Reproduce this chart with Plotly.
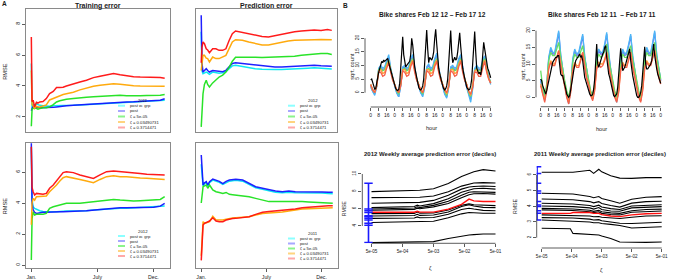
import math
import plotly.graph_objects as go

W, H = 680, 280
FONT = "Liberation Sans, Arial, sans-serif"
TXT = "#1a1a1a"

# ---------------- A: cumulative RMSE through the year ----------------
days = [0, 2, 5, 9, 14, 18, 23, 32, 41, 50, 60, 69, 78, 87, 96, 115, 133, 151,
        170, 188, 206, 225, 243, 261, 280, 298, 316, 335, 353, 365]
month_ticks = [0, 181, 334]
month_labels = ["Jan.", "July", "Dec."]
series_names = ["post w. grp", "post", "ζ = 5e-05", "ζ = 0.03490731", "ζ = 0.3714471"]

train11_cyan = [5.45, 2.5, 2.8, 2.75, 2.85, 2.8, 2.75, 2.72, 2.7, 2.7, 2.72, 2.72, 2.72, 2.73, 2.74, 2.75, 2.78, 2.8, 2.83, 2.87, 2.9, 2.92, 2.95, 2.97, 2.97, 2.99, 3.0, 3.02, 3.05, 3.08]
train11_blue = [2.4, 2.6, 2.7, 2.55, 2.6, 2.62, 2.6, 2.6, 2.62, 2.6, 2.62, 2.65, 2.68, 2.7, 2.72, 2.75, 2.78, 2.82, 2.85, 2.87, 2.9, 2.93, 2.95, 2.97, 2.98, 3.0, 3.0, 3.02, 3.08, 3.18]
train11_green = [1.4, 2.5, 2.55, 2.6, 2.55, 2.5, 2.55, 2.6, 2.6, 2.65, 2.8, 2.97, 3.05, 3.1, 3.15, 3.2, 3.25, 3.28, 3.3, 3.33, 3.37, 3.4, 3.4, 3.37, 3.35, 3.37, 3.38, 3.37, 3.4, 3.45]
train11_orange = [5.0, 2.8, 2.7, 2.55, 2.7, 2.65, 2.65, 2.7, 2.78, 3.1, 3.2, 3.3, 3.38, 3.45, 3.5, 3.6, 3.75, 3.88, 3.98, 4.05, 4.1, 4.15, 4.12, 4.06, 4.02, 4.0, 4.0, 3.99, 3.99, 3.98]
train11_red = [7.16, 3.0, 3.08, 2.65, 2.95, 2.9, 2.97, 3.0, 3.19, 3.51, 3.65, 3.9, 3.9, 3.92, 4.0, 4.15, 4.26, 4.37, 4.54, 4.63, 4.69, 4.8, 4.72, 4.65, 4.6, 4.58, 4.58, 4.58, 4.55, 4.5]

pred12_cyan = [7.5, 5.0, 4.8, 4.85, 4.9, 4.85, 4.75, 4.9, 4.85, 4.82, 4.85, 4.93, 5.12, 5.3, 5.34, 5.25, 5.17, 5.12, 5.08, 5.06, 5.06, 5.07, 5.1, 5.12, 5.14, 5.15, 5.17, 5.15, 5.13, 5.1]
pred12_blue = [8.56, 5.5, 4.9, 5.0, 5.12, 5.0, 4.9, 5.0, 4.97, 4.95, 4.92, 5.01, 5.23, 5.45, 5.5, 5.45, 5.4, 5.34, 5.3, 5.23, 5.23, 5.23, 5.25, 5.27, 5.28, 5.3, 5.34, 5.31, 5.3, 5.28]
pred12_green = [1.36, 2.5, 3.5, 4.1, 4.37, 4.1, 3.94, 4.2, 4.4, 4.58, 4.7, 4.9, 5.2, 5.6, 5.85, 5.87, 5.87, 5.86, 5.84, 5.85, 5.87, 5.87, 5.9, 5.92, 5.98, 6.02, 6.09, 6.09, 6.09, 6.03]
pred12_orange = [5.0, 5.6, 5.98, 5.98, 5.8, 5.77, 5.55, 5.87, 5.77, 5.77, 5.87, 5.98, 6.41, 6.84, 6.99, 6.95, 6.84, 6.73, 6.65, 6.65, 6.73, 6.84, 6.9, 6.95, 6.95, 6.97, 6.99, 7.0, 7.01, 6.99]
pred12_red = [5.5, 6.5, 6.84, 6.73, 6.4, 6.32, 6.15, 6.4, 6.4, 6.3, 6.3, 6.4, 6.94, 7.37, 7.55, 7.45, 7.38, 7.26, 7.2, 7.17, 7.25, 7.38, 7.45, 7.5, 7.55, 7.58, 7.62, 7.59, 7.64, 7.59]

train12_cyan = [7.6, 4.2, 3.76, 3.65, 3.6, 3.55, 3.5, 3.46, 3.44, 3.44, 3.44, 3.44, 3.46, 3.46, 3.48, 3.48, 3.48, 3.5, 3.55, 3.58, 3.62, 3.64, 3.66, 3.66, 3.68, 3.7, 3.7, 3.72, 3.76, 3.8]
train12_blue = [7.85, 4.0, 3.55, 3.4, 3.33, 3.35, 3.38, 3.4, 3.4, 3.42, 3.44, 3.44, 3.44, 3.44, 3.44, 3.46, 3.48, 3.5, 3.55, 3.58, 3.63, 3.66, 3.7, 3.7, 3.7, 3.7, 3.7, 3.72, 3.8, 3.98]
train12_green = [0.32, 3.0, 3.44, 3.23, 3.27, 3.27, 3.27, 3.27, 3.33, 3.66, 3.76, 3.82, 3.87, 3.93, 3.98, 3.98, 3.98, 4.04, 4.09, 4.12, 4.19, 4.23, 4.19, 4.15, 4.13, 4.15, 4.19, 4.21, 4.23, 4.41]
train12_orange = [2.6, 4.0, 4.3, 4.19, 4.41, 4.41, 4.41, 4.41, 4.45, 4.73, 4.95, 5.16, 5.42, 5.63, 5.7, 5.63, 5.52, 5.42, 5.31, 5.52, 5.7, 5.76, 5.7, 5.7, 5.63, 5.61, 5.59, 5.57, 5.52, 5.52]
train12_red = [7.63, 5.0, 4.73, 4.52, 4.62, 4.6, 4.62, 4.56, 4.62, 4.95, 5.16, 5.42, 5.7, 5.96, 6.02, 5.96, 5.81, 5.7, 5.59, 5.81, 6.02, 6.06, 6.02, 5.98, 5.98, 5.91, 5.85, 5.85, 5.81, 5.81]

pred11_cyan = [6.5, 5.8, 5.1, 5.25, 5.32, 5.1, 5.32, 5.48, 5.42, 5.33, 5.2, 5.33, 5.41, 5.44, 5.47, 5.41, 5.2, 4.98, 4.88, 4.77, 4.7, 4.66, 4.7, 4.66, 4.66, 4.68, 4.66, 4.64, 4.62, 4.6]
pred11_blue = [7.1, 6.0, 5.16, 5.3, 5.38, 5.16, 5.38, 5.55, 5.48, 5.4, 5.25, 5.4, 5.48, 5.5, 5.53, 5.48, 5.27, 5.05, 4.95, 4.84, 4.77, 4.73, 4.77, 4.73, 4.73, 4.75, 4.73, 4.71, 4.69, 4.69]
pred11_green = [4.0, 4.5, 5.05, 5.1, 5.16, 4.95, 5.16, 4.84, 4.73, 4.68, 4.62, 4.68, 4.56, 4.54, 4.52, 4.47, 4.41, 4.3, 4.2, 4.09, 4.09, 4.09, 4.09, 4.13, 4.09, 4.07, 4.05, 4.03, 4.02, 3.98]
pred11_orange = [0.6, 2.0, 2.8, 2.69, 2.75, 2.75, 2.8, 3.15, 2.9, 2.9, 2.9, 2.95, 3.01, 3.03, 3.05, 3.08, 3.12, 3.23, 3.33, 3.36, 3.38, 3.42, 3.48, 3.55, 3.61, 3.63, 3.66, 3.68, 3.7, 3.7]
pred11_red = [0.3, 1.8, 2.58, 2.69, 2.75, 2.8, 2.84, 3.05, 2.84, 2.8, 2.8, 2.9, 2.97, 3.0, 3.01, 3.06, 3.12, 3.27, 3.4, 3.45, 3.48, 3.52, 3.55, 3.62, 3.7, 3.74, 3.78, 3.8, 3.83, 3.83]

# ---------------- B top: hourly bike shares (sqrt count) ----------------
hours = list(range(0, 121))
hours2 = list(range(0, 121, 2))
hour_ticks = [0, 8, 16, 24, 32, 40, 48, 56, 64, 72, 80, 88, 96, 104, 112, 120]
hour_labels = ["0", "8", "16", "0", "8", "16", "0", "8", "16", "0", "8", "16", "0", "8", "16", "0"]

obs12 = [4.7, 5.0, 3.8, 2.0, 1.3, 1.5, 3.0, 5.5, 7.5, 9.0, 10.5, 11.5, 11.0, 12.0, 11.5, 12.0, 12.5, 12.6, 11.0, 9.5, 8.0, 6.5, 5.0, 3.5,
         2.5, 1.5, 1.0, 0.8, 1.2, 3.5, 9.0, 16.0, 20.5, 14.0, 10.5, 9.5, 10.0, 10.5, 11.0, 11.5, 14.0, 20.0, 17.5, 12.0, 9.5, 7.5, 5.5, 3.5,
         2.0, 1.2, 1.0, 1.5, 2.5, 5.0, 10.0, 18.0, 23.0, 16.0, 11.0, 13.0, 12.5, 12.0, 13.0, 15.0, 20.0, 23.3, 18.0, 12.0, 9.0, 7.0, 5.0, 3.5,
         2.5, 1.5, 1.0, 1.5, 2.5, 5.0, 10.0, 18.0, 22.8, 15.0, 11.0, 12.0, 13.0, 12.0, 12.5, 15.0, 19.0, 22.0, 17.0, 12.0, 9.0, 7.0, 5.0, 3.5,
         2.0, 1.5, 1.0, 1.2, 2.5, 5.0, 10.0, 18.0, 22.5, 15.0, 9.0, 8.0, 7.0, 7.5, 6.5, 9.0, 14.0, 18.5, 16.0, 13.0, 11.0, 9.0, 8.0, 6.5, 5.5]
fit12_cyan = [2.0, 0.5, -1.0, 2.0, 9.0, 10.0, 9.0, 9.5, 12.0, 14.0, 9.0, 5.0,
              2.5, 0.0, -1.5, 2.5, 9.5, 10.0, 9.0, 9.5, 12.5, 14.0, 9.0, 5.0,
              2.5, 0.0, -1.5, 2.0, 9.5, 10.5, 9.0, 9.5, 12.5, 14.5, 9.0, 5.0,
              2.5, -0.5, -2.0, 2.0, 9.5, 10.0, 9.0, 9.5, 12.5, 14.0, 9.0, 5.0,
              2.0, -1.0, -3.5, 1.5, 9.0, 10.0, 9.0, 9.0, 12.0, 13.5, 9.0, 5.5, 3.0]
fit12_blue = [2.5, 0.5, -0.5, 2.5, 8.5, 9.5, 8.5, 9.0, 11.5, 13.0, 8.5, 5.0,
              2.5, 0.0, -1.5, 2.5, 9.0, 9.5, 8.5, 9.0, 12.0, 13.5, 8.5, 5.0,
              2.5, 0.0, -1.0, 2.5, 9.0, 10.0, 8.5, 9.0, 12.0, 14.0, 8.5, 5.0,
              2.5, -0.5, -1.5, 2.0, 9.0, 9.5, 8.5, 9.0, 12.0, 13.5, 8.5, 5.0,
              2.0, -0.5, -2.5, 2.0, 8.5, 9.5, 8.5, 8.5, 11.5, 13.5, 8.5, 5.5, 3.5]
fit12_green = [3.0, 1.0, 0.0, 2.5, 8.5, 9.0, 8.0, 8.5, 10.5, 12.0, 8.5, 5.0,
               3.0, 0.5, -0.5, 3.0, 8.5, 9.0, 8.0, 8.5, 11.0, 12.5, 8.5, 5.0,
               3.0, 0.5, -0.5, 3.0, 8.5, 9.0, 8.0, 8.5, 11.0, 12.5, 8.5, 5.0,
               3.0, 0.5, -1.0, 2.5, 8.5, 9.0, 8.0, 8.5, 11.0, 12.5, 8.5, 5.0,
               3.0, 0.0, -1.5, 2.5, 8.0, 9.0, 8.0, 8.0, 11.0, 12.5, 8.5, 5.5, 4.0]
fit12_orange = [3.0, 1.0, 0.0, 2.5, 8.0, 8.5, 7.0, 7.5, 10.0, 11.5, 8.0, 5.0,
                3.0, 1.0, 0.0, 3.0, 8.5, 8.5, 7.0, 7.5, 10.5, 12.0, 8.0, 5.0,
                3.0, 1.0, 0.0, 3.0, 8.5, 8.5, 7.0, 7.5, 10.5, 12.0, 8.0, 5.0,
                3.0, 1.0, -0.5, 2.5, 8.5, 8.5, 7.0, 7.5, 10.5, 12.0, 8.0, 5.0,
                3.0, 0.5, -1.0, 2.5, 8.0, 8.5, 7.0, 7.0, 10.0, 12.0, 8.0, 5.0, 3.5]
fit12_red = [3.0, 1.0, 0.0, 2.5, 7.5, 7.5, 6.0, 6.5, 9.0, 11.0, 7.5, 4.5,
             3.0, 1.0, 0.0, 2.5, 8.0, 7.5, 6.0, 6.5, 9.5, 11.5, 7.5, 4.5,
             3.0, 1.0, 0.0, 2.5, 8.0, 7.5, 6.0, 6.5, 9.5, 11.5, 7.5, 4.5,
             3.0, 1.0, 0.0, 2.5, 8.0, 7.5, 6.0, 6.5, 9.5, 11.5, 7.5, 4.5,
             3.0, 0.5, -0.5, 2.0, 7.5, 7.5, 6.0, 6.0, 9.0, 11.5, 7.5, 5.0, 3.5]

obs11 = [5.5, 5.0, 3.5, 2.5, 1.5, 1.0, 2.0, 3.5, 5.5, 7.0, 8.5, 10.0, 10.5, 11.0, 11.5, 12.0, 12.0, 12.5, 12.5, 9.0, 7.0, 6.5, 6.5, 5.0,
         4.0, 2.5, 1.0, 0.5, 0.0, 0.5, 2.0, 4.0, 6.0, 8.0, 10.0, 11.0, 11.5, 12.0, 12.5, 13.0, 12.0, 12.5, 11.0, 7.0, 6.0, 5.0, 4.0, 2.5,
         2.0, 1.0, 0.5, 0.5, 1.0, 2.5, 5.5, 11.0, 16.0, 10.0, 9.0, 10.0, 11.5, 12.0, 13.0, 13.5, 15.0, 15.5, 12.0, 8.0, 7.0, 6.0, 4.5, 2.5,
         1.5, 0.5, 0.2, 0.5, 1.0, 3.0, 6.0, 11.0, 14.7, 10.0, 8.0, 8.5, 9.0, 10.0, 11.0, 12.0, 13.5, 14.5, 11.0, 8.0, 6.5, 5.0, 3.0, 1.5,
         0.5, 0.0, 0.0, 0.5, 1.5, 3.5, 7.0, 12.0, 15.2, 10.0, 8.5, 8.5, 9.0, 9.5, 10.0, 11.0, 13.5, 16.0, 12.5, 10.0, 8.5, 7.0, 6.0, 5.0, 4.2]
fit11_cyan = [5.5, 1.5, -1.0, 3.0, 12.0, 15.0, 13.5, 13.5, 16.5, 20.0, 13.0, 8.0,
              4.0, 0.5, -2.0, 2.5, 11.5, 14.5, 13.0, 13.5, 16.0, 19.0, 12.5, 8.0,
              4.0, 1.0, -0.5, 3.0, 12.0, 14.5, 13.5, 13.5, 16.0, 19.5, 13.0, 8.0,
              4.0, 0.5, -1.5, 2.5, 11.5, 14.5, 13.0, 13.5, 16.0, 19.0, 12.5, 8.0,
              4.0, 0.5, -1.0, 3.0, 12.0, 15.0, 13.5, 13.5, 16.5, 20.0, 13.0, 8.5, 5.0]
fit11_blue = [5.0, 1.5, -0.5, 3.0, 11.5, 14.5, 13.0, 13.0, 16.0, 19.5, 12.5, 8.0,
              4.0, 0.5, -1.5, 2.5, 11.0, 14.0, 12.5, 13.0, 15.5, 18.5, 12.0, 8.0,
              4.0, 1.0, -0.5, 3.0, 11.5, 14.0, 13.0, 13.0, 15.5, 19.0, 12.5, 8.0,
              4.0, 0.5, -1.0, 2.5, 11.0, 14.0, 12.5, 13.0, 15.5, 18.5, 12.0, 8.0,
              4.0, 0.5, -1.0, 3.0, 11.5, 14.5, 13.0, 13.0, 16.0, 19.5, 12.5, 8.5, 5.0]
fit11_green = [8.0, 3.0, 0.5, 4.0, 11.0, 13.5, 12.5, 12.5, 14.5, 16.5, 12.0, 8.0,
               5.0, 2.0, 0.0, 3.5, 10.5, 13.0, 12.0, 12.0, 14.0, 15.5, 11.5, 8.0,
               5.0, 2.0, 0.5, 4.0, 11.0, 13.0, 12.0, 12.5, 14.0, 16.0, 11.5, 8.0,
               5.0, 2.0, 0.0, 3.5, 10.5, 13.0, 12.0, 12.0, 14.0, 15.5, 11.5, 8.0,
               5.0, 2.0, 0.0, 4.0, 11.0, 13.5, 12.5, 12.5, 14.5, 16.5, 12.0, 8.5, 5.5]
fit11_orange = [4.0, 1.0, -0.5, 2.5, 9.0, 11.0, 10.0, 10.0, 12.0, 14.0, 10.0, 6.5,
                4.0, 0.5, -1.5, 2.0, 8.5, 10.5, 9.5, 9.5, 11.5, 13.5, 9.5, 6.0,
                4.0, 1.0, -0.5, 2.5, 9.0, 10.5, 10.0, 10.0, 11.5, 13.5, 9.5, 6.0,
                3.5, 0.5, -1.0, 2.0, 8.5, 10.5, 9.5, 9.5, 11.5, 13.5, 9.5, 6.0,
                3.5, 0.5, -1.0, 2.5, 9.0, 11.0, 10.0, 10.0, 12.0, 14.0, 10.0, 6.5, 4.5]
fit11_red = [3.5, 0.5, -1.5, 2.0, 8.5, 10.5, 9.5, 9.5, 11.5, 14.0, 9.5, 6.0,
             3.5, 0.0, -2.0, 1.5, 8.0, 10.0, 9.0, 9.0, 11.0, 13.5, 9.0, 5.5,
             3.5, 0.5, -1.0, 2.0, 8.5, 10.0, 9.0, 9.5, 11.0, 13.5, 9.0, 5.5,
             3.0, 0.0, -1.5, 1.5, 8.0, 10.0, 9.0, 9.0, 11.0, 13.5, 9.0, 5.5,
             3.0, 0.0, -1.5, 2.0, 8.5, 10.5, 9.5, 9.5, 11.5, 14.0, 9.5, 6.0, 4.0]

# ---------------- B bottom: weekly RMSE deciles vs zeta ----------------
zeta_ticks = [5e-05, 5e-04, 5e-03, 5e-02, 5e-01]
zeta_labels = ["5e-05", "5e-04", "5e-03", "5e-02", "5e-01"]

zeta12 = [5e-05, 5e-04, 1.2e-03, 1.5e-03, 1.8e-03, 5e-03, 1.5e-02, 4e-02, 7e-02, 1e-01, 2e-01, 5e-01]
dec12 = [
    [7.96, 8.1, 8.12, 8.15, 8.13, 8.3, 8.9, 9.7, 10.0, 10.25, 10.5, 10.35],
    [7.27, 7.3, 7.31, 7.35, 7.31, 7.45, 7.95, 8.6, 8.85, 8.95, 9.0, 8.95],
    [6.62, 6.68, 6.7, 6.78, 6.72, 6.95, 7.55, 8.25, 8.5, 8.55, 8.62, 8.55],
    [6.12, 6.2, 6.25, 6.4, 6.3, 6.58, 7.15, 7.9, 8.2, 8.3, 8.35, 8.25],
    [5.96, 6.02, 6.08, 6.22, 6.12, 6.38, 6.85, 7.55, 7.9, 7.95, 7.95, 7.88],
    [5.81, 5.86, 5.92, 6.05, 5.98, 6.2, 6.6, 7.25, 7.6, 7.72, 7.75, 7.68],
    [5.42, 5.42, 5.45, 5.6, 5.48, 5.5, 5.85, 6.4, 6.55, 6.45, 6.38, 6.35],
    [5.15, 5.17, 5.2, 5.35, 5.22, 5.27, 5.62, 6.25, 6.45, 6.3, 6.15, 6.12],
    [4.88, 4.9, 4.92, 5.05, 4.95, 4.98, 5.35, 5.9, 6.05, 5.95, 5.8, 5.75],
    [4.4, 4.45, 4.47, 4.55, 4.5, 4.55, 4.95, 5.4, 5.55, 5.5, 5.46, 5.46],
    [2.08, 2.1, 2.12, 2.15, 2.13, 2.19, 2.55, 2.85, 2.95, 3.0, 3.08, 3.08],
]
mean12 = [5.58, 5.58, 5.58, 5.7, 5.6, 5.6, 5.95, 6.5, 7.1, 6.9, 6.82, 6.82]
post_zeta12 = 4e-05
post_dec12 = [8.93, 5.96, 5.77, 5.54, 5.19, 5.05, 4.89, 4.69, 4.31, 4.08, 2.08]

zeta11 = [5e-05, 4.5e-04, 5.5e-04, 2e-03, 2.7e-03, 4e-03, 5e-03, 1e-02, 2e-02, 5e-02, 1.5e-01, 5e-01]
dec11 = [
    [6.17, 6.17, 6.17, 6.3, 6.1, 6.36, 6.2, 5.95, 5.8, 5.78, 5.83, 5.83],
    [4.83, 4.78, 4.78, 4.62, 4.55, 4.62, 4.5, 4.35, 4.2, 4.45, 4.58, 4.62],
    [4.47, 4.42, 4.42, 4.3, 4.22, 4.3, 4.18, 4.05, 3.95, 4.2, 4.3, 4.32],
    [4.19, 4.15, 4.15, 4.05, 3.98, 4.07, 3.95, 3.85, 3.8, 4.02, 4.08, 4.1],
    [4.02, 3.98, 3.98, 3.9, 3.82, 3.92, 3.8, 3.7, 3.68, 3.9, 3.96, 3.98],
    [3.87, 3.83, 3.83, 3.75, 3.68, 3.75, 3.65, 3.58, 3.55, 3.72, 3.8, 3.82],
    [3.77, 3.73, 3.73, 3.65, 3.6, 3.65, 3.55, 3.48, 3.45, 3.62, 3.68, 3.7],
    [3.45, 3.43, 3.43, 3.38, 3.33, 3.35, 3.3, 3.25, 3.22, 3.3, 3.38, 3.4],
    [3.28, 3.25, 3.25, 3.18, 3.13, 3.15, 3.08, 3.0, 2.92, 2.9, 2.95, 2.98],
    [3.13, 3.1, 3.05, 3.0, 2.95, 2.95, 2.9, 2.85, 2.78, 2.62, 2.65, 2.7],
    [2.6, 2.57, 2.27, 2.2, 2.2, 2.17, 2.1, 1.95, 1.72, 1.7, 1.7, 1.72],
]
mean11 = [3.55, 3.55, 3.6, 3.6, 3.55, 3.55, 3.47, 3.38, 3.34, 3.45, 3.52, 3.55]
post_zeta11 = 3.5e-05
post_dec11 = [6.53, 6.1, 5.47, 4.98, 4.83, 4.3, 4.09, 3.98, 3.72, 3.55, 3.13]

# ---------------- styling ----------------
A_COLORS = ["rgba(0,232,240,0.95)", "rgba(20,20,255,0.95)", "rgba(30,225,30,0.95)",
            "rgba(255,165,0,0.95)", "rgba(255,15,15,0.95)"]
KEY_COLORS = ["rgba(0,255,255,0.45)", "rgba(60,60,255,0.45)", "rgba(0,230,0,0.45)",
              "rgba(255,170,0,0.5)", "rgba(255,40,40,0.4)"]
B_COLORS = ["#6f6ff0", "#4cb6f6", "#66df66", "#ff9d3a", "#f6604a"]


def fx(px):
    return px / W


def fy(py):
    return 1 - py / H


def frac(v, rng):
    return (v - rng[0]) / (rng[1] - rng[0])


fig = go.Figure()
layout = dict(template="none", width=W, height=H, margin=dict(l=0, r=0, t=0, b=0, pad=0),
              paper_bgcolor="white", plot_bgcolor="rgba(0,0,0,0)", showlegend=False,
              font=dict(family=FONT, color=TXT))
shapes, annotations = [], []


def ax_names(i):
    s = "" if i == 1 else str(i)
    return "x" + s, "y" + s, "xaxis" + s, "yaxis" + s


A_RANGE_X = [-14.6, 379.6]
panelsA = [
    dict(box=(26, 170, 9, 132), yr=[1.03, 8.97], yt=[2, 4, 6, 8], ylab=True, xlab=False,
         series=[train11_cyan, train11_blue, train11_green, train11_orange, train11_red],
         legend_title="2011", lt=(143, 100), ly=[105.7, 111.0, 116.5, 122.0, 127.5], kx=(118, 125)),
    dict(box=(196, 337, 9, 132), yr=[1.03, 8.97], yt=[2, 4, 6, 8], ylab=False, xlab=False,
         series=[pred12_cyan, pred12_blue, pred12_green, pred12_orange, pred12_red],
         legend_title="2012", lt=(313, 100), ly=[105.7, 111.0, 116.5, 122.0, 127.5], kx=(288, 295)),
    dict(box=(26, 170, 143, 268), yr=[-0.19, 7.87], yt=[0, 2, 4, 6], ylab=True, xlab=True,
         series=[train12_cyan, train12_blue, train12_green, train12_orange, train12_red],
         legend_title="2012", lt=(143, 231), ly=[236.0, 241.0, 246.0, 251.0, 256.0], kx=(118, 125)),
    dict(box=(196, 338, 143, 268), yr=[-0.19, 7.87], yt=[0, 2, 4, 6], ylab=False, xlab=True,
         series=[pred11_cyan, pred11_blue, pred11_green, pred11_orange, pred11_red],
         legend_title="2011", lt=(313, 233), ly=[238.5, 243.5, 248.5, 253.5, 258.5], kx=(288, 295)),
]

for i, p in enumerate(panelsA, start=1):
    xn, yn, xa, ya = ax_names(i)
    x0, x1, t, b = p["box"]
    layout[xa] = dict(domain=[fx(x0), fx(x1)], anchor=yn, range=A_RANGE_X, automargin=False,
                      showgrid=False, zeroline=False, showline=True, mirror=True,
                      linecolor="#8a8a8a", linewidth=1.4,
                      tickvals=month_ticks if p["xlab"] else [],
                      ticktext=month_labels if p["xlab"] else [],
                      ticks="outside" if p["xlab"] else "", ticklen=3, tickwidth=0.8,
                      tickcolor="#333", tickfont=dict(size=5.2, color=TXT))
    layout[ya] = dict(domain=[fy(b), fy(t)], anchor=xn, range=p["yr"], automargin=False,
                      showgrid=False, zeroline=False, showline=True, mirror=True,
                      linecolor="#8a8a8a", linewidth=1.4,
                      tickvals=p["yt"] if p["ylab"] else [],
                      ticks="outside" if p["ylab"] else "", ticklen=3, tickwidth=0.8,
                      tickcolor="#333", tickangle=-90, tickfont=dict(size=5.2, color=TXT))
    for vals, col in zip(p["series"], A_COLORS):
        fig.add_trace(go.Scatter(x=days, y=vals, mode="lines", xaxis=xn, yaxis=yn,
                                 line=dict(color=col, width=1.5), hoverinfo="skip"))
    annotations.append(dict(x=fx(p["lt"][0]), y=fy(p["lt"][1]), xref="paper", yref="paper",
                            text=p["legend_title"], showarrow=False, xanchor="center",
                            yanchor="middle", font=dict(size=4.3, color=TXT)))
    for name, kc, yy in zip(series_names, KEY_COLORS, p["ly"]):
        shapes.append(dict(type="line", xref="paper", yref="paper",
                           x0=fx(p["kx"][0]), x1=fx(p["kx"][1]), y0=fy(yy), y1=fy(yy),
                           line=dict(color=kc, width=2)))
        annotations.append(dict(x=fx(p["kx"][1] + 3), y=fy(yy), xref="paper", yref="paper",
                                text=name, showarrow=False, xanchor="left", yanchor="middle",
                                font=dict(size=4.2, color=TXT)))

# ---------------- B top panels ----------------
panelsB = [
    dict(box=(365, 496, 26, 107), xr=[-5.7, 125.3], yr=[-5.26, 24.5],
         obs=obs12, fits=[fit12_blue, fit12_cyan, fit12_green, fit12_orange, fit12_red]),
    dict(box=(536, 666, 27.7, 106.7), xr=[-4.7, 125.3], yr=[-2.82, 20.9],
         obs=obs11, fits=[fit11_blue, fit11_cyan, fit11_green, fit11_orange, fit11_red]),
]
for j, p in enumerate(panelsB, start=5):
    xn, yn, xa, ya = ax_names(j)
    x0, x1, t, b = p["box"]
    layout[xa] = dict(domain=[fx(x0), fx(x1)], anchor=yn, range=p["xr"], automargin=False,
                      showgrid=False, zeroline=False, showline=False, tickvals=hour_ticks,
                      ticktext=hour_labels, ticks="outside", ticklen=3, tickwidth=0.8,
                      tickcolor="#333", tickfont=dict(size=5, color=TXT))
    layout[ya] = dict(domain=[fy(b), fy(t)], anchor=xn, range=p["yr"], automargin=False,
                      showgrid=False, zeroline=False, showline=False, tickvals=[0, 5, 10, 15, 20],
                      ticks="outside", ticklen=3, tickwidth=0.8, tickcolor="#333",
                      tickangle=-90, tickfont=dict(size=5, color=TXT))
    for vals, col in zip(p["fits"], B_COLORS):
        fig.add_trace(go.Scatter(x=hours2, y=vals, mode="lines", xaxis=xn, yaxis=yn,
                                 line=dict(color=col, width=1.3), hoverinfo="skip"))
    fig.add_trace(go.Scatter(x=hours, y=p["obs"], mode="lines", xaxis=xn, yaxis=yn,
                             line=dict(color="black", width=1.2), hoverinfo="skip"))
    shapes.append(dict(type="line", xref=xn + " domain", yref=yn + " domain",
                       x0=frac(hour_ticks[0], p["xr"]), x1=frac(hour_ticks[-1], p["xr"]),
                       y0=0, y1=0, line=dict(color="#333", width=0.8)))
    shapes.append(dict(type="line", xref=xn + " domain", yref=yn + " domain", x0=0, x1=0,
                       y0=frac(0, p["yr"]), y1=frac(20, p["yr"]),
                       line=dict(color="#333", width=0.8)))

# ---------------- B bottom panels ----------------
panelsC = [
    dict(box=(362.3, 500.5, 166, 243.3), xr=[-4.598, -0.14], yr=[2.0, 10.92], yt=[4, 6, 8, 10],
         z=zeta12, dec=dec12, mean=mean12, pz=post_zeta12, pd=post_dec12),
    dict(box=(536.7, 666.7, 163.5, 248), xr=[-4.468, -0.134], yr=[1.34, 6.73], yt=[2, 3, 4, 5, 6],
         z=zeta11, dec=dec11, mean=mean11, pz=post_zeta11, pd=post_dec11),
]
for j, p in enumerate(panelsC, start=7):
    xn, yn, xa, ya = ax_names(j)
    x0, x1, t, b = p["box"]
    layout[xa] = dict(domain=[fx(x0), fx(x1)], anchor=yn, type="log", range=p["xr"],
                      automargin=False, showgrid=False, zeroline=False, showline=False,
                      tickvals=zeta_ticks, ticktext=zeta_labels, ticks="outside", ticklen=3,
                      tickwidth=0.8, tickcolor="#333", tickfont=dict(size=4.6, color=TXT))
    layout[ya] = dict(domain=[fy(b), fy(t)], anchor=xn, range=p["yr"], automargin=False,
                      showgrid=False, zeroline=False, showline=False, tickvals=p["yt"],
                      ticks="outside", ticklen=3, tickwidth=0.8, tickcolor="#333",
                      tickangle=-90, tickfont=dict(size=4.6, color=TXT))
    for line_vals in p["dec"]:
        fig.add_trace(go.Scatter(x=p["z"], y=line_vals, mode="lines", xaxis=xn, yaxis=yn,
                                 line=dict(color="black", width=1.1), hoverinfo="skip"))
    fig.add_trace(go.Scatter(x=p["z"], y=p["mean"], mode="lines", xaxis=xn, yaxis=yn,
                             line=dict(color="#ff1010", width=1.4), hoverinfo="skip"))
    fig.add_trace(go.Scatter(x=[p["pz"], p["pz"]], y=[min(p["pd"]), max(p["pd"])], mode="lines",
                             xaxis=xn, yaxis=yn, line=dict(color="#1a1aff", width=1.6),
                             hoverinfo="skip"))
    fig.add_trace(go.Scatter(x=[p["pz"]] * len(p["pd"]), y=p["pd"], mode="markers",
                             xaxis=xn, yaxis=yn, hoverinfo="skip",
                             marker=dict(symbol="line-ew", size=6,
                                         line=dict(color="#1a1aff", width=1.5))))
    lx0, lx1 = math.log10(zeta_ticks[0]), math.log10(zeta_ticks[-1])
    shapes.append(dict(type="line", xref=xn + " domain", yref=yn + " domain",
                       x0=frac(lx0, p["xr"]), x1=frac(lx1, p["xr"]), y0=0, y1=0,
                       line=dict(color="#333", width=0.8)))
    shapes.append(dict(type="line", xref=xn + " domain", yref=yn + " domain", x0=0, x1=0,
                       y0=frac(p["yt"][0], p["yr"]), y1=frac(p["yt"][-1], p["yr"]),
                       line=dict(color="#333", width=0.8)))


# ---------------- text ----------------
def label(x, y, text, size, bold=False, angle=0):
    annotations.append(dict(x=fx(x), y=fy(y), xref="paper", yref="paper",
                            text="<b>%s</b>" % text if bold else text, showarrow=False,
                            xanchor="center", yanchor="middle", textangle=angle,
                            font=dict(size=size, color=TXT, family=FONT)))


label(4, 4, "A", 6.5, bold=True)
label(345, 5, "B", 6.5, bold=True)
label(98, 5.7, "Training error", 7, bold=True)
label(266.7, 5.7, "Prediction error", 7, bold=True)
label(4.7, 72, "RMSE", 5.6, angle=-90)
label(4.7, 206.5, "RMSE", 5.6, angle=-90)
label(432, 14.3, "Bike shares Feb 12 12 – Feb 17 12", 6.6, bold=True)
label(602, 14.3, "Bike shares Feb 12 11  – Feb 17 11", 6.6, bold=True)
label(352, 66.7, "sqrt. count", 5.6, angle=-90)
label(523, 66.7, "sqrt. count", 5.6, angle=-90)
label(431.7, 128.3, "hour", 5.6)
label(601.7, 129.3, "hour", 5.6)
label(430, 154.3, "2012 Weekly average prediction error (deciles)", 6.0, bold=True)
label(600, 154.3, "2011 Weekly average prediction error (deciles)", 6.0, bold=True)
label(344, 208.3, "RMSE", 5.2, angle=-90)
label(515, 206, "RMSE", 5.2, angle=-90)
label(430.7, 268.3, "ζ", 5.6)
label(601.7, 270, "ζ", 5.6)

layout["shapes"] = shapes
layout["annotations"] = annotations
fig.update_layout(**layout)
fig.write_html("out.html", config={"displayModeBar": False, "staticPlot": True},
               post_script="document.body.style.margin='0px';document.body.style.overflow='hidden';")
